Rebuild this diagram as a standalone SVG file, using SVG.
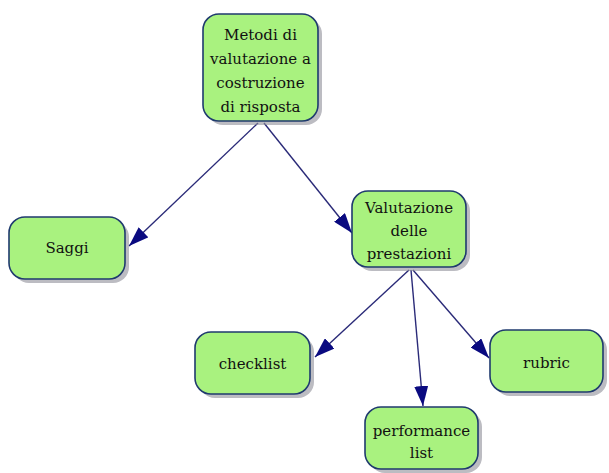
<svg xmlns="http://www.w3.org/2000/svg" width="609" height="473" viewBox="0 0 609 473">
<defs>
<style>
.box{fill:#a9f27f;stroke:#1f3a6e;stroke-width:1.6}
.sh{fill:#8f8f9a;opacity:0.6}
.t{font-family:'DejaVu Serif',serif;font-size:15px;fill:#111;text-anchor:middle}
.c{stroke:#2a2a78;stroke-width:1.4;fill:none}
</style>
<marker id="ahc" viewBox="0 0 20 14" refX="20" refY="7" markerWidth="20" markerHeight="14" markerUnits="userSpaceOnUse" orient="auto">
<path d="M0,0 L20,7 L0,14 z" fill="#0a0a80"/>
</marker>
</defs>
<rect width="609" height="473" fill="#ffffff"/>
<g id="connectors">
<line class="c" x1="258" y1="123" x2="129" y2="246" marker-end="url(#ahc)"/>
<line class="c" x1="264" y1="123" x2="352" y2="233" marker-end="url(#ahc)"/>
<line class="c" x1="409" y1="270" x2="315" y2="357" marker-end="url(#ahc)"/>
<line class="c" x1="411" y1="270" x2="423" y2="406" marker-end="url(#ahc)"/>
<line class="c" x1="413" y1="270" x2="489" y2="358" marker-end="url(#ahc)"/>
</g>
<g id="n1">
<rect class="sh" x="207" y="18" width="115" height="107" rx="16"/>
<rect class="box" x="203" y="14" width="115" height="107" rx="16"/>
<text class="t" x="260.5" y="40">Metodi di</text>
<text class="t" x="260.5" y="64">valutazione a</text>
<text class="t" x="260.5" y="88">costruzione</text>
<text class="t" x="260.5" y="112">di risposta</text>
</g>
<g id="n2">
<rect class="sh" x="13" y="221" width="116" height="62" rx="16"/>
<rect class="box" x="9" y="217" width="116" height="62" rx="16"/>
<text class="t" x="67" y="253">Saggi</text>
</g>
<g id="n3">
<rect class="sh" x="356" y="195" width="114" height="76" rx="16"/>
<rect class="box" x="352" y="191" width="114" height="76" rx="16"/>
<text class="t" x="409" y="213">Valutazione</text>
<text class="t" x="409" y="236">delle</text>
<text class="t" x="409" y="259">prestazioni</text>
</g>
<g id="n4">
<rect class="sh" x="199" y="336" width="115" height="62" rx="16"/>
<rect class="box" x="195" y="332" width="115" height="62" rx="16"/>
<text class="t" x="252.5" y="369">checklist</text>
</g>
<g id="n5">
<rect class="sh" x="369" y="411" width="113" height="62" rx="16"/>
<rect class="box" x="365" y="407" width="113" height="62" rx="16"/>
<text class="t" x="421.5" y="436">performance</text>
<text class="t" x="421.5" y="458">list</text>
</g>
<g id="n6">
<rect class="sh" x="494" y="334" width="113" height="62" rx="16"/>
<rect class="box" x="490" y="330" width="113" height="62" rx="16"/>
<text class="t" x="546.5" y="368">rubric</text>
</g>
</svg>
